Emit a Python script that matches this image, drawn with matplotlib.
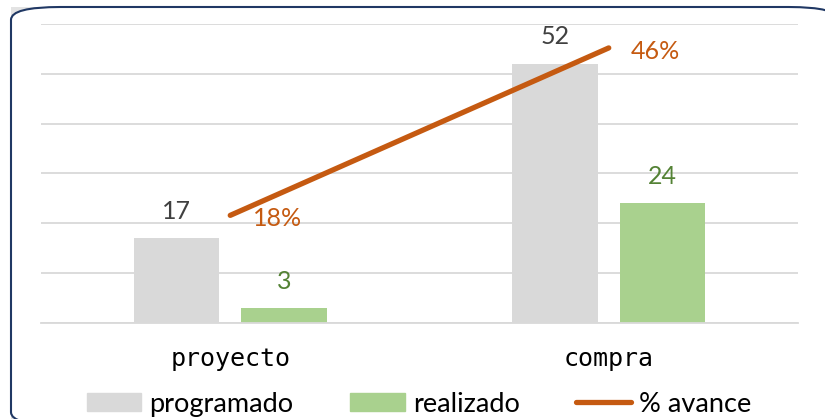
import matplotlib
matplotlib.use("Agg")
import matplotlib.pyplot as plt
from matplotlib.patches import FancyBboxPatch, Rectangle, Patch
from matplotlib.lines import Line2D
import numpy as np

categories = ["proyecto", "compra"]
programado = [17, 52]
realizado = [3, 24]
avance = [0.18, 0.46]
avance_labels = ["18%", "46%"]

W, H = 825, 419
fig = plt.figure(figsize=(W / 100, H / 100), dpi=100)
fig.patch.set_facecolor("white")

# background frame
fig.patches.append(Rectangle((11 / W, 0), 30 / W, (H - 7) / H, transform=fig.transFigure,
                             facecolor="#E3E3E3", edgecolor="none", zorder=0))
fig.patches.append(FancyBboxPatch((11 / W, -6 / H), 827 / W, (412 + 6) / H,
                                  boxstyle="round,pad=0,rounding_size=0.06",
                                  transform=fig.transFigure, mutation_aspect=H / W,
                                  facecolor="white", edgecolor="#203864", linewidth=1.5,
                                  zorder=1))

ax = fig.add_axes([41 / W, 96 / H, (798 - 41) / W, (323 - 24) / H])
ax.set_facecolor("none")
ax.set_zorder(2)

x = np.arange(len(categories))
bw = 0.225
off = 0.142
ax.bar(x - off, programado, bw, color="#D9D9D9", zorder=2, label="programado")
ax.bar(x + off, realizado, bw, color="#A9D18E", zorder=2, label="realizado")

ax2 = ax.twinx()
ax2.set_ylim(0, 0.5)
ax2.axis("off")

ax.set_xlim(-0.5, 1.5)
ax.set_ylim(0, 60)
ax.set_yticks(np.arange(0, 61, 10))
ax.yaxis.grid(True, color="#D9D9D9", linewidth=1.3, zorder=0)
ax.set_axisbelow(True)
ax.tick_params(axis="y", left=False, right=False, labelleft=False, labelright=False)
ax.tick_params(axis="x", bottom=False, pad=14)
ax.set_xticks(x)
ax.set_xticklabels(categories, fontfamily="DejaVu Sans Mono", fontsize=18, color="black")
for s in ["top", "right", "left"]:
    ax.spines[s].set_visible(False)
ax.spines["bottom"].set_color("#D9D9D9")
ax.spines["bottom"].set_linewidth(1.3)

lblfont = dict(fontfamily="Lato", fontsize=18)
for xi, v in zip(x - off, programado):
    ax.annotate(str(v), (xi, v), xytext=(0, 14), textcoords="offset points",
                ha="center", va="baseline", color="#404040", **lblfont)
for xi, v in zip(x + off, realizado):
    ax.annotate(str(v), (xi, v), xytext=(0, 14), textcoords="offset points",
                ha="center", va="baseline", color="#548235", **lblfont)

ax2.plot(x, avance, color="#C55A11", linewidth=3.8, solid_capstyle="round",
         zorder=3, label="% avance")
for xi, v, t in zip(x, avance, avance_labels):
    ax2.annotate(t, (xi, v), xytext=(16, -1), textcoords="offset points",
                 ha="left", va="center_baseline", color="#C55A11", **lblfont)

handles = [Patch(color="#D9D9D9"), Patch(color="#A9D18E"),
           Line2D([], [], color="#C55A11", linewidth=3.8, solid_capstyle="round")]
fig.legend(handles, ["programado", "realizado", "% avance"], loc="center",
           bbox_to_anchor=(419 / W, 1 - 404 / H), ncol=3, frameon=False,
           prop=dict(family="Lato", size=19.5), handlelength=2.0, handleheight=0.6,
           handletextpad=0.3, columnspacing=2.1, borderaxespad=0)

fig.savefig("out.png", dpi=100)
